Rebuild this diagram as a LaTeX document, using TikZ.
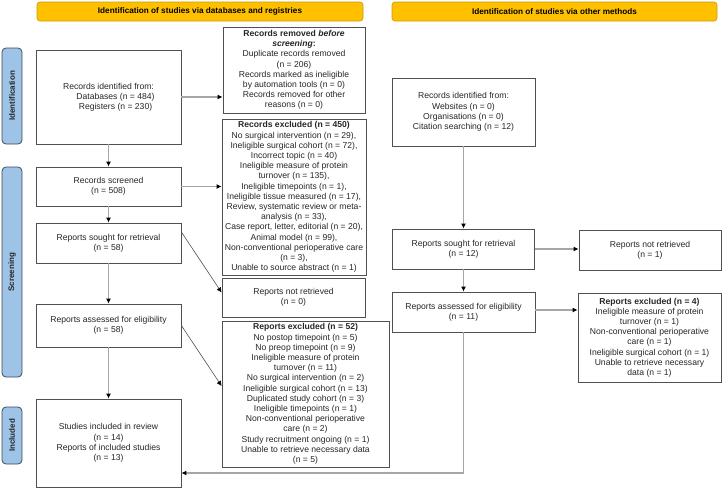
\documentclass[tikz,border=0pt]{standalone}
\usepackage{fontspec}
\setmainfont{Liberation Sans}
\usetikzlibrary{arrows.meta}
\definecolor{banner}{HTML}{FFC000}
\definecolor{bannerline}{HTML}{C89B00}
\definecolor{side}{HTML}{9DC3E6}
\definecolor{sideline}{HTML}{3E4A57}
\definecolor{boxline}{HTML}{505050}
\definecolor{conn}{HTML}{A6A6A6}
\tikzset{
  box/.style={draw=boxline, line width=0.8pt, inner sep=0pt, align=center,
    font=\fontsize{8.6}{10.2}\selectfont, text=black!85},
  bannerbox/.style={draw=bannerline, fill=banner, rounded corners=3pt, line width=0.6pt,
    inner sep=0pt, font=\fontsize{8.2}{9}\selectfont\bfseries},
  sidebox/.style={draw=sideline, fill=side, rounded corners=4pt, line width=0.8pt,
    inner sep=0pt},
  sidetext/.style={rotate=90, font=\fontsize{8}{9}\selectfont\bfseries, text=black!85},
  conn/.style={draw=conn, line width=1.1pt, -{Latex[color=black,length=5pt,width=5pt]}},
}
\begin{document}
\begin{tikzpicture}[x=1pt,y=-1pt]
\useasboundingbox (0,0) rectangle (723,488);
% banners
\node[bannerbox, minimum width=326pt, minimum height=19pt] (banL) at (200,11.5) {Identification of studies via databases and registries};
\node[bannerbox, minimum width=325pt, minimum height=19pt] (banR) at (554.5,11.5) {Identification of studies via other methods};
% side labels
\node[sidebox, minimum width=20pt, minimum height=96pt] (labId) at (12,96) {};
\node[sidetext] (labIdT) at (labId.center) {Identification};
\node[sidebox, minimum width=20pt, minimum height=210pt] (labScr) at (12,272) {};
\node[sidetext] (labScrT) at (labScr.center) {Screening};
\node[sidebox, minimum width=20pt, minimum height=57pt] (labInc) at (12,435.5) {};
\node[sidetext] (labIncT) at (labInc.center) {Included};
% left column
\node[box, minimum width=145pt, minimum height=94pt] (id1) at (108.5,97) {Records identified from:\\\hspace*{14pt}Databases (n = 484)\\\hspace*{14pt}Registers (n = 230)};
\node[box, minimum width=142pt, minimum height=86pt] (removed) at (294,70) {\textbf{Records removed \textit{before}}\\\textbf{\textit{screening}:}\\Duplicate records removed\\(n = 206)\\Records marked as ineligible\\by automation tools (n = 0)\\Records removed for other\\reasons (n = 0)};
\node[box, minimum width=145pt, minimum height=39pt] (screened) at (108.5,186.5) {Records screened\\(n = 508)};
\node[box, minimum width=144pt, minimum height=156pt] (excl) at (294,197) {\textbf{Records excluded (n = 450)}\\No surgical intervention (n = 29),\\Ineligible surgical cohort (n = 72),\\Incorrect topic (n = 40)\\Ineligible measure of protein\\turnover (n = 135),\\Ineligible timepoints (n = 1),\\Ineligible tissue measured (n = 17),\\Review, systematic review or meta-\\analysis (n = 33),\\Case report, letter, editorial (n = 20),\\Animal model (n = 99),\\Non-conventional perioperative care\\(n = 3),\\Unable to source abstract (n = 1)};
\node[box, minimum width=145pt, minimum height=40pt] (sought) at (108.5,243) {Reports sought for retrieval\\(n = 58)};
\node[box, minimum width=143pt, minimum height=39pt] (notret) at (293.5,297.5) {Reports not retrieved\\(n = 0)};
\node[box, minimum width=145pt, minimum height=43pt] (assessed) at (108.5,325.5) {Reports assessed for eligibility\\(n = 58)};
\node[box, minimum width=167pt, minimum height=146pt] (excl52) at (305.5,394) {\textbf{Reports excluded (n = 52)}\\No postop timepoint (n = 5)\\No preop timepoint (n = 9)\\Ineligible measure of protein\\turnover (n = 11)\\No surgical intervention (n = 2)\\Ineligible surgical cohort (n = 13)\\Duplicated study cohort (n = 3)\\Ineligible timepoints (n = 1)\\Non-conventional perioperative\\care (n = 2)\\Study recruitment ongoing (n = 1)\\Unable to retrieve necessary data\\(n = 5)};
\node[box, minimum width=145pt, minimum height=88pt] (included) at (108.5,443) {Studies included in review\\(n = 14)\\Reports of included studies\\(n = 13)};
% right column
\node[box, minimum width=143pt, minimum height=68pt] (idR) at (463.5,112) {Records identified from:\\Websites (n = 0)\\Organisations (n = 0)\\Citation searching (n = 12)};
\node[box, minimum width=142pt, minimum height=40pt] (soughtR) at (463.5,249) {Reports sought for retrieval\\(n = 12)};
\node[box, minimum width=142pt, minimum height=40pt] (notretR) at (650,250) {Reports not retrieved\\(n = 1)};
\node[box, minimum width=143pt, minimum height=40pt] (assessedR) at (463.5,312) {Reports assessed for eligibility\\(n = 11)};
\node[box, minimum width=143pt, minimum height=89pt] (exclR) at (649.5,337.5) {\textbf{Reports excluded (n = 4)}\\Ineligible measure of protein\\turnover (n = 1)\\Non-conventional perioperative\\care (n = 1)\\Ineligible surgical cohort (n = 1)\\Unable to retrieve necessary\\data (n = 1)};
\coordinate (join) at ([yshift=-30pt]included.east);
% connectors
\draw[conn] (id1.east) -- (id1.east -| removed.west);
\draw[conn] (id1.south) -- (screened.north);
\draw[conn] (screened.east) -- (screened.east -| excl.west);
\draw[conn] (screened.south) -- (sought.north);
\draw[conn, draw=black!70, line width=0.6pt] ([yshift=11pt]sought.east) -- ([yshift=5pt]notret.west);
\draw[conn] (sought.south) -- (assessed.north);
\draw[conn, draw=black!70, line width=0.6pt] (assessed.east) -- ([yshift=8pt]excl52.west);
\draw[conn] (assessed.south) -- (included.north);
\draw[conn] (idR.south) -- (soughtR.north);
\draw[conn] (soughtR.east) -- (soughtR.east -| notretR.west);
\draw[conn] (soughtR.south) -- (assessedR.north);
\draw[conn] ([yshift=2pt]assessedR.east) -- ([yshift=2pt]assessedR.east -| exclR.west);
\draw[conn] (assessedR.south) |- (join);
\end{tikzpicture}
\end{document}
